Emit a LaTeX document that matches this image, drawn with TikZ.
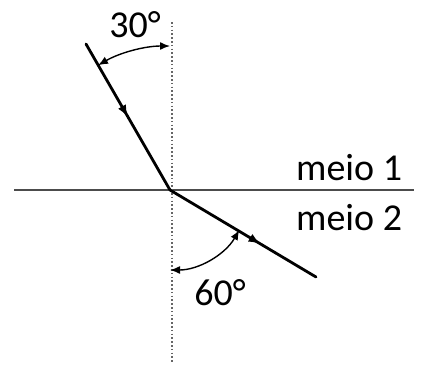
\documentclass[tikz,border=0pt]{standalone}
\usepackage{fontspec}
\setmainfont{Carlito}
\usetikzlibrary{arrows.meta,decorations.markings}
\begin{document}
\begin{tikzpicture}[x=1pt,y=-1pt,
  ray/.style={line width=2.8pt,black,line cap=round,
    postaction={decorate},decoration={markings,mark=at position #1 with {\arrow{Latex[length=12pt,width=9pt]}}}},
  arcarrow/.style={line width=1.4pt,{Latex[length=10pt,width=8pt]}-{Latex[length=10pt,width=8pt]}},
  lbl/.style={font=\fontsize{38}{42}\selectfont,inner sep=0pt}]
\useasboundingbox (0,0) rectangle (427,365);
\coordinate (O) at (170,190);
\coordinate (A) at (86,44);
\coordinate (B) at (316,277);
\coordinate (L) at (14,190);
\coordinate (R) at (414,190);
\coordinate (T) at (172,22);
\coordinate (D) at (172,362);
\draw[line width=1.6pt,black!70] (L) -- (R);
\draw[line width=1.6pt,black!60,dash pattern=on 1.6pt off 2.2pt] (T) -- (D);
\draw[ray=0.5] (A) -- (O);
\draw[ray=0.62] (O) -- (B);
% 30 deg arc, radius ~144
\draw[arcarrow] ([shift={(-120:144)}]O) arc[start angle=-120, end angle=-90, radius=144];
% 60 deg arc, radius ~80
\draw[arcarrow] ([shift={(30:80)}]O) arc[start angle=30, end angle=90, radius=80];
\node[lbl] (t30) at (135,25) {30°};
\node[lbl] (t60) at (220,293) {60°};
\node[lbl,anchor=base west] (m1) at (296,180) {meio 1};
\node[lbl,anchor=base west] (m2) at (296,230) {meio 2};
\end{tikzpicture}
\end{document}
